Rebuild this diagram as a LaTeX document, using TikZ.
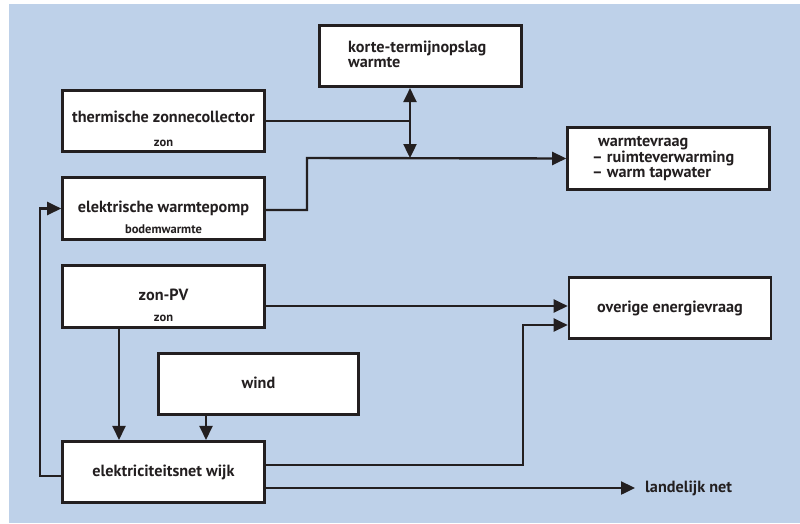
\documentclass[tikz,border=0pt]{standalone}
\usepackage{fontspec}
\setmainfont{PT Sans}
\usetikzlibrary{arrows.meta,calc}
\definecolor{bgblue}{RGB}{190,209,233}
\definecolor{ink}{RGB}{35,31,32}
\tikzset{
  box/.style={draw=ink, line width=2.6pt, fill=white, minimum width=202pt, minimum height=61.5pt, inner sep=0pt},
  title/.style={anchor=base, inner sep=0pt, text=ink, font=\bfseries\fontsize{16.2}{18}\selectfont},
  subtitle/.style={anchor=base, inner sep=0pt, text=ink, font=\bfseries\fontsize{12.5}{14}\selectfont},
  flow/.style={draw=ink, line width=2.4pt},
  arr/.style={flow, -{Triangle[width=13pt,length=14pt]}},
  darr/.style={flow, {Triangle[width=13pt,length=14pt]}-{Triangle[width=13pt,length=14pt]}}
}
\begin{document}
\begin{tikzpicture}[x=1pt,y=-1pt]
  \useasboundingbox (0,0) rectangle (800,523);
  \fill[white] (0,0) rectangle (800,523);
  \fill[bgblue] (9,4) rectangle (800,523);

  % boxes
  \node[box] (tzc) at (163.5,121) {};
  \node[box] (ewp) at (163.5,208.5) {};
  \node[box] (kto) at (420.5,56) {};
  \node[box] (wv)  at (668.5,158.5) {};
  \node[box] (zpv) at (163.5,296.5) {};
  \node[box, minimum width=200.5pt] (wnd) at (258.5,384) {};
  \node[box] (ene) at (163.5,472) {};
  \node[box] (oev) at (670,308) {};

  % box texts
  \node[title] (tzcT) at (163.5,122.5) {thermische zonnecollector};
  \node[subtitle] (tzcS) at (163.5,146) {zon};
  \node[title] (ewpT) at (163.5,212) {elektrische warmtepomp};
  \node[subtitle] (ewpS) at (163.5,233) {bodemwarmte};
  \node[title, anchor=base west] (ktoT1) at (348,52) {korte-termijnopslag};
  \node[title, anchor=base west] (ktoT2) at (348,67.5) {warmte};
  \node[title, anchor=base west] (wvT1) at (598,146) {warmtevraag};
  \node[title, anchor=base west] (wvT2) at (598,162) {\kern-6pt– ruimteverwarming};
  \node[title, anchor=base west] (wvT3) at (598,177.5) {\kern-6pt– warm tapwater};
  \node[title] (zpvT) at (163.5,300.5) {zon-PV};
  \node[subtitle] (zpvS) at (163.5,321) {zon};
  \node[title] (wndT) at (258.5,388) {wind};
  \node[title] (eneT) at (163.5,476) {elektriciteitsnet wijk};
  \node[title] (oevT) at (670,312) {overige energievraag};
  \node[title, anchor=base west] (ln) at (645,492) {landelijk net};

  % junction points of the heat circuit
  \coordinate (split) at (410,158);
  \coordinate (bendA) at (307,158);
  \coordinate (bendB) at (523,325);
  \coordinate (bendC) at (40,476);

  % heat flows
  \draw[flow] (tzc.east) -- (tzc.east -| split);
  \draw[darr] (split) -- (split |- kto.south);
  \draw[arr] ([yshift=-1.5pt]ewp.east) -| (bendA) -- (wv.west);

  % electricity flows
  \draw[arr] ([yshift=-9.5pt]zpv.east) -- ([yshift=2pt]oev.west);
  \draw[arr] ([xshift=-44.5pt]zpv.south) -- ([xshift=-44.5pt]ene.north);
  \draw[arr] ([xshift=-52.5pt]wnd.south) -- ([xshift=42.5pt]ene.north);
  \draw[arr] ([yshift=7pt]ene.east) -| (bendB) -- (bendB -| oev.west);
  \draw[arr] ([yshift=-16pt]ene.east) -- ([xshift=-10pt,yshift=4pt]ln.base west);
  \draw[arr] ([yshift=-4pt]ene.west) -- (bendC) |- (ewp.west);
\end{tikzpicture}
\end{document}
